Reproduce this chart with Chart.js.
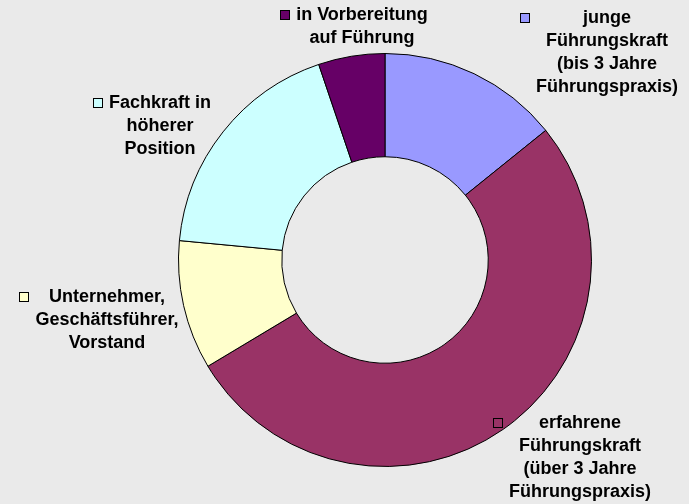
<!DOCTYPE html>
<html>
<head>
<meta charset="utf-8">
<script src="https://cdn.jsdelivr.net/npm/chart.js@4/dist/chart.umd.min.js"></script>
<style>
html,body{margin:0;padding:0;background:#eaeaea;}
#wrap{width:689px;height:504px;position:relative;}
</style>
</head>
<body>
<div id="wrap"><canvas id="c" width="689" height="504"></canvas></div>
<script>
// Categories (multi-line labels)
const categories = [
  ['junge', 'Führungskraft', '(bis 3 Jahre', 'Führungspraxis)'],
  ['erfahrene', 'Führungskraft', '(über 3 Jahre', 'Führungspraxis)'],
  ['Unternehmer,', 'Geschäftsführer,', 'Vorstand'],
  ['Fachkraft in', 'höherer', 'Position'],
  ['in Vorbereitung', 'auf Führung']
];
// Shares (percent)
const shares = [14.2, 52.2, 10.1, 18.3, 5.2];
const sliceColors = ['#9999FF', '#993366', '#FFFFCC', '#CCFFFF', '#660066'];

// Label placement (layout only): block center x, first line center y
const labelPlacement = [
  {cx: 607, y: 18},
  {cx: 580, y: 423},
  {cx: 107, y: 297},
  {cx: 160, y: 103},
  {cx: 362, y: 15}
];

const labelPlugin = {
  id: 'sideLabels',
  afterDatasetsDraw(chart) {
    const ctx = chart.ctx;
    const labels = chart.data.labels;
    const colors = chart.data.datasets[0].backgroundColor;
    ctx.save();
    ctx.font = 'bold 18px "Liberation Sans", Arial, sans-serif';
    ctx.fillStyle = '#000';
    ctx.textBaseline = 'middle';
    ctx.textAlign = 'center';
    const lh = 23;
    labels.forEach((lines, i) => {
      const p = labelPlacement[i];
      let w = 0;
      lines.forEach(l => { w = Math.max(w, ctx.measureText(l).width); });
      lines.forEach((l, j) => ctx.fillText(l, p.cx, p.y + j * lh));
      const left = p.cx - w / 2;
      const sx = Math.round(left - 16) + 0.5;
      const sy = Math.round(p.y - 5) + 0.5;
      ctx.fillStyle = colors[i];
      ctx.fillRect(sx, sy, 9, 9);
      ctx.strokeStyle = '#000';
      ctx.lineWidth = 1;
      ctx.strokeRect(sx, sy, 9, 9);
      ctx.fillStyle = '#000';
    });
    ctx.restore();
  }
};

new Chart(document.getElementById('c'), {
  type: 'doughnut',
  data: {
    labels: categories,
    datasets: [{
      data: shares,
      backgroundColor: sliceColors,
      borderColor: '#000',
      borderWidth: 1,
      hoverOffset: 0
    }]
  },
  options: {
    responsive: false,
    animation: false,
    cutout: '50%',
    rotation: 0,
    layout: { padding: { left: 178, right: 97, top: 53, bottom: 37 } },
    plugins: {
      legend: { display: false },
      tooltip: { enabled: false }
    }
  },
  plugins: [labelPlugin]
});
</script>
</body>
</html>
